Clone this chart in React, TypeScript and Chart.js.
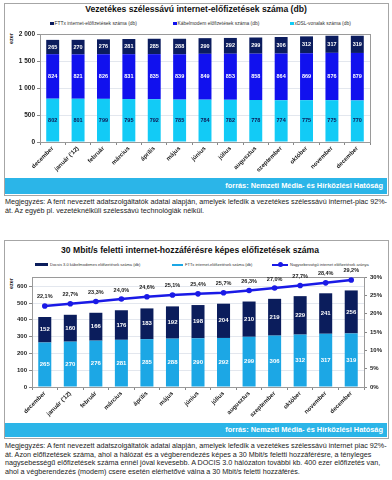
import React, { useEffect, useRef } from "react";
import { Chart, registerables } from "chart.js";

Chart.register(...registerables);

const FONT = "'Liberation Sans', Arial, sans-serif";

const months = [
  "december", "január ('12)", "február", "március", "április", "május", "június",
  "július", "augusztus", "szeptember", "október", "november", "december",
];

// Chart 1 (ezer)
const xdsl = [802, 801, 799, 795, 792, 785, 784, 782, 778, 774, 775, 775, 770];
const kabel = [824, 821, 826, 831, 835, 839, 849, 853, 858, 864, 869, 876, 879];
const fttx1 = [265, 270, 276, 281, 285, 288, 290, 292, 299, 306, 312, 317, 319];

// Chart 2 (ezer, %)
const fttx2 = [265, 270, 276, 281, 285, 288, 290, 292, 299, 306, 312, 317, 319];
const docsis = [152, 160, 166, 176, 183, 192, 198, 204, 210, 219, 229, 241, 256];
const share = [22.1, 22.7, 23.3, 24.0, 24.6, 25.1, 25.4, 25.7, 26.3, 27.0, 27.7, 28.4, 29.2];

const leftTicks1 = [0, 500, 1000, 1500, 2000];
const leftTicks2 = [0, 100, 200, 300, 400, 500, 600];
const rightTicks2 = [0, 5, 10, 15, 20, 25, 30];

const fmtThousand = (v: number) => String(v).replace(/\B(?=(\d{3})+(?!\d))/g, " ");

const valueLabels = {
  id: "valueLabels",
  afterDatasetsDraw(chart: any) {
    const ctx = chart.ctx;
    ctx.save();
    chart.data.datasets.forEach((ds: any, i: number) => {
      const meta = chart.getDatasetMeta(i);
      if (meta.hidden) return;
      meta.data.forEach((el: any, j: number) => {
        const v = ds.data[j];
        ctx.textAlign = "center";
        ctx.textBaseline = "middle";
        ctx.fillStyle = ds.labelColor || "#fff";
        ctx.font = `bold ${ds.labelSize || 6}px ${FONT}`;
        if (ds.type === "line") {
          ctx.fillText(v.toFixed(1).replace(".", ",") + "%", el.x, el.y - 9);
        } else {
          ctx.fillText(String(v), el.x, (el.y + el.base) / 2);
        }
      });
    });
    ctx.restore();
  },
};

const frame = {
  id: "frame",
  beforeDatasetsDraw(chart: any) {
    const a = chart.chartArea;
    const ctx = chart.ctx;
    ctx.save();
    ctx.strokeStyle = "#9a9a9a";
    ctx.lineWidth = 1;
    ctx.strokeRect(Math.round(a.left) + 0.5, Math.round(a.top) + 0.5, Math.round(a.right - a.left), Math.round(a.bottom - a.top));
    ctx.restore();
  },
};

const tickFont = (s: number) => ({ family: FONT, size: s, weight: "bold" as const });

export default function App() {
  const r1 = useRef<HTMLCanvasElement>(null);
  const r2 = useRef<HTMLCanvasElement>(null);

  useEffect(() => {
    const ch1 = new Chart(r1.current!, {
      type: "bar",
      data: {
        labels: months,
        datasets: [
          { label: "xDSL-vonalak száma (db)", data: xdsl, backgroundColor: "#12CBF6", labelColor: "#0c1a55", labelSize: 5.5 } as any,
          { label: "Kábelmodem előfizetések száma (db)", data: kabel, backgroundColor: "#1111EE", labelColor: "#ffffff", labelSize: 5.5 } as any,
          { label: "FTTx internet-előfizetések száma (db)", data: fttx1, backgroundColor: "#0B1C5E", labelColor: "#ffffff", labelSize: 5.5 } as any,
        ],
      },
      options: {
        responsive: false,
        animation: false,
        layout: { padding: { top: 6, right: 15, left: 0, bottom: 0 } },
        plugins: { legend: { display: false }, tooltip: { enabled: false }, title: { display: false } },
        datasets: { bar: { categoryPercentage: 1, barPercentage: 0.51 } },
        scales: {
          x: {
            stacked: true,
            afterFit: (s: any) => { s.height = 36; },
            grid: { display: true, drawOnChartArea: false, offset: true, tickLength: 3, color: "#888" },
            border: { color: "#888" },
            ticks: { minRotation: 45, maxRotation: 45, font: tickFont(6), color: "#222", padding: 0 },
          },
          y: {
            stacked: true,
            min: 0,
            max: 2000,
            afterFit: (s: any) => { s.width = 35; },
            afterBuildTicks: (s: any) => { s.ticks = leftTicks1.map((v) => ({ value: v })); },
            grid: { color: "#e3e7ee", tickLength: 3, tickColor: "#888" },
            border: { color: "#888" },
            ticks: { font: tickFont(6.5), color: "#222", padding: 2, callback: (v: any) => fmtThousand(Number(v)) },
          },
        },
      },
      plugins: [valueLabels, frame],
    });

    const ch2 = new Chart(r2.current!, {
      type: "bar",
      data: {
        labels: months,
        datasets: [
          {
            type: "line",
            label: "Nagysebességű internet előfizetések aránya",
            data: share,
            yAxisID: "y2",
            borderColor: "#1a1ae6",
            backgroundColor: "#1a1ae6",
            borderWidth: 2.5,
            pointRadius: 2.8,
            pointBackgroundColor: "#1a1ae6",
            pointBorderWidth: 0,
            clip: false,
            labelColor: "#222",
            labelSize: 5.5,
          } as any,
          { label: "FTTx internet-előfizetések száma (db)", data: fttx2, backgroundColor: "#1CA7E5", labelColor: "#ffffff", labelSize: 6, yAxisID: "y" } as any,
          { label: "Docsis 3.0 kábelmodemes előfizetések száma (db)", data: docsis, backgroundColor: "#0B1D5C", labelColor: "#ffffff", labelSize: 6, yAxisID: "y" } as any,
        ],
      },
      options: {
        responsive: false,
        animation: false,
        layout: { padding: { top: 15, right: 0, left: 0, bottom: 0 } },
        plugins: { legend: { display: false }, tooltip: { enabled: false }, title: { display: false } },
        datasets: { bar: { categoryPercentage: 1, barPercentage: 0.51 } },
        scales: {
          x: {
            stacked: true,
            afterFit: (s: any) => { s.height = 36; },
            grid: { display: true, drawOnChartArea: false, offset: true, tickLength: 3, color: "#888" },
            border: { color: "#888" },
            ticks: { minRotation: 45, maxRotation: 45, font: tickFont(6), color: "#222", padding: 0 },
          },
          y: {
            stacked: true,
            min: 0,
            max: 655,
            afterFit: (s: any) => { s.width = 27; },
            afterBuildTicks: (s: any) => { s.ticks = leftTicks2.map((v) => ({ value: v })); },
            grid: { color: "#e3e7ee", tickLength: 3, tickColor: "#888" },
            border: { color: "#888" },
            ticks: { font: tickFont(6), color: "#222", padding: 2 },
          },
          y2: {
            position: "right",
            min: 0,
            max: 30,
            afterFit: (s: any) => { s.width = 23; },
            afterBuildTicks: (s: any) => { s.ticks = rightTicks2.map((v) => ({ value: v })); },
            grid: { drawOnChartArea: false, tickLength: 3, color: "#888" },
            border: { color: "#888" },
            ticks: { font: tickFont(6), color: "#222", padding: 3, callback: (v: any) => v + "%" },
          },
        },
      },
      plugins: [valueLabels, frame],
    });

    return () => {
      ch1.destroy();
      ch2.destroy();
    };
  }, []);

  const abs = (o: React.CSSProperties): React.CSSProperties => ({ position: "absolute", ...o });
  const sq = (c: string) => (
    <span style={{ display: "inline-block", width: 3.5, height: 3.5, background: c, marginRight: 1, verticalAlign: "middle" }} />
  );
  const noteStyle: React.CSSProperties = { fontSize: 7.2, lineHeight: "8.6px", color: "#222", whiteSpace: "nowrap" };

  return (
    <div style={{ position: "absolute", left: 0, top: 0, width: 392, height: 480, overflow: "hidden", background: "#fff", fontFamily: FONT }}>
      {/* Chart 1 box */}
      <div style={abs({ left: 4, top: 3, width: 383, height: 191, border: "1px solid #a6a6a6" })} />
      <div style={abs({ left: 0, top: 4, width: 392, textAlign: "center", fontSize: 8.6, fontWeight: "bold", color: "#111" })}>
        Vezetékes szélessávú internet-előfizetések száma (db)
      </div>
      <div style={abs({ left: 50, top: 21, fontSize: 4.9, color: "#333", whiteSpace: "nowrap" })}>{sq("#0B1C5E")}FTTx internet-előfizetések száma (db)</div>
      <div style={abs({ left: 173, top: 21, fontSize: 4.9, color: "#333", whiteSpace: "nowrap" })}>{sq("#1111EE")}Kábelmodem előfizetések száma (db)</div>
      <div style={abs({ left: 290, top: 21, fontSize: 4.9, color: "#333", whiteSpace: "nowrap" })}>{sq("#12CBF6")}xDSL-vonalak száma (db)</div>
      <div style={abs({ left: 8, top: 32, width: 8, height: 12, fontSize: 5.5, fontWeight: "bold", color: "#222", writingMode: "vertical-rl", transform: "rotate(180deg)" })}>ezer</div>
      <canvas ref={r1} width={380} height={150} style={abs({ left: 5, top: 28 })} />
      <div style={abs({ left: 5, top: 178, width: 382, height: 16, background: "#2BB5E8" })} />
      <div style={abs({ left: 5, top: 181, width: 378, textAlign: "right", fontSize: 7.4, fontWeight: "bold", color: "#fff", whiteSpace: "nowrap" })}>
        forrás: Nemzeti Média- és Hírközlési Hatóság
      </div>
      <div style={abs({ left: 5, top: 198, ...noteStyle })}>
        Megjegyzés: A fent nevezett adatszolgáltatók adatai alapján, amelyek lefedik a vezetékes szélessávú internet-piac 92%-
        <br />
        át. Az egyéb pl. vezetéknélküli szélessávú technológiák nélkül.
      </div>

      {/* Chart 2 box */}
      <div style={abs({ left: 4, top: 240, width: 383, height: 197, border: "1px solid #a6a6a6" })} />
      <div style={abs({ left: 0, top: 245, width: 380, textAlign: "center", fontSize: 8.6, fontWeight: "bold", color: "#111" })}>
        30 Mbit/s feletti internet-hozzáférésre képes előfizetések száma
      </div>
      <div style={abs({ left: 35, top: 262, fontSize: 4, color: "#333", whiteSpace: "nowrap", display: "flex", alignItems: "center" })}>
        <span style={{ display: "inline-block", width: 13, height: 3, background: "#0B1D5C", marginRight: 2 }} />
        Docsis 3.0 kábelmodemes előfizetések száma (db)
      </div>
      <div style={abs({ left: 172, top: 262, fontSize: 4, color: "#333", whiteSpace: "nowrap", display: "flex", alignItems: "center" })}>
        <span style={{ display: "inline-block", width: 11, height: 2, background: "#1CA7E5", marginRight: 2 }} />
        FTTx internet-előfizetések száma (db)
      </div>
      <div style={abs({ left: 272, top: 262, fontSize: 4, color: "#333", whiteSpace: "nowrap", display: "flex", alignItems: "center" })}>
        <span style={{ position: "relative", display: "inline-block", width: 16, height: 2, background: "#1a1ae6", marginRight: 2 }}>
          <span style={{ position: "absolute", left: 6, top: -1.5, width: 5, height: 5, borderRadius: "50%", background: "#1a1ae6" }} />
        </span>
        Nagysebességű internet előfizetések aránya
      </div>
      <div style={abs({ left: 8, top: 277, width: 8, height: 12, fontSize: 5.5, fontWeight: "bold", color: "#222", writingMode: "vertical-rl", transform: "rotate(180deg)" })}>ezer</div>
      <canvas ref={r2} width={382} height={161} style={abs({ left: 5, top: 262 })} />
      <div style={abs({ left: 5, top: 423, width: 382, height: 14, background: "#2BB5E8" })} />
      <div style={abs({ left: 5, top: 425, width: 378, textAlign: "right", fontSize: 7.4, fontWeight: "bold", color: "#fff", whiteSpace: "nowrap" })}>
        forrás: Nemzeti Média- és Hírközlési Hatóság
      </div>
      <div style={abs({ left: 5, top: 442, ...noteStyle })}>
        Megjegyzés: A fent nevezett adatszolgáltatók adatai alapján, amelyek lefedik a vezetékes szélessávú internet piac 92%-
        <br />
        át. Azon előfizetések száma, ahol a hálózat és a végberendezés képes a 30 Mbit/s feletti hozzáférésre, a tényleges
        <br />
        nagysebességű előfizetések száma ennél jóval kevesebb. A DOCIS 3.0 hálózaton további kb. 400 ezer előfizetés van,
        <br />
        ahol a végberendezés (modem) csere esetén elérhetővé válna a 30 Mbit/s feletti hozzáférés.
      </div>
    </div>
  );
}
